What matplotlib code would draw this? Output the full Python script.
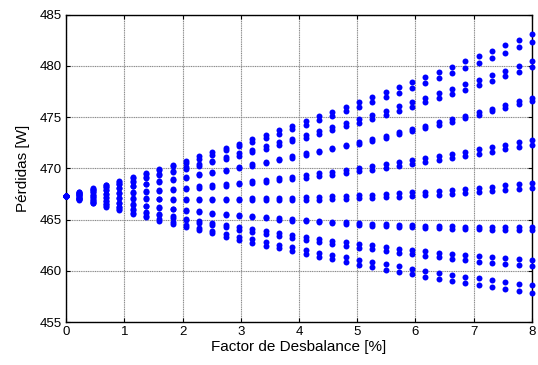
import matplotlib
matplotlib.use('Agg')
import matplotlib.pyplot as plt

# Factor de desbalance [%] (36 columnas de puntos)
factor = [0, 0.229, 0.457, 0.686, 0.914, 1.143, 1.371, 1.6, 1.829, 2.057, 2.286, 2.514,
          2.743, 2.971, 3.2, 3.429, 3.657, 3.886, 4.114, 4.343, 4.571, 4.8, 5.029, 5.257,
          5.486, 5.714, 5.943, 6.171, 6.4, 6.629, 6.857, 7.086, 7.314, 7.543, 7.771, 8.0]

# Perdidas [W], una lista por curva
p01 = [467.30, 467.66, 468.03, 468.41, 468.78, 469.17, 469.56, 469.95, 470.35, 470.75, 471.16, 471.58,
       472.00, 472.42, 472.85, 473.29, 473.73, 474.17, 474.62, 475.08, 475.54, 476.01, 476.48, 476.95,
       477.43, 477.92, 478.41, 478.91, 479.41, 479.92, 480.43, 480.95, 481.47, 481.99, 482.53, 483.06]
p02 = [467.30, 467.64, 467.99, 468.34, 468.70, 469.06, 469.43, 469.80, 470.18, 470.56, 470.95, 471.34,
       471.74, 472.14, 472.55, 472.96, 473.38, 473.80, 474.23, 474.67, 475.10, 475.55, 476.00, 476.45,
       476.91, 477.38, 477.85, 478.32, 478.80, 479.28, 479.77, 480.27, 480.77, 481.28, 481.79, 482.30]
p03 = [467.30, 467.59, 467.88, 468.18, 468.48, 468.79, 469.11, 469.43, 469.75, 470.08, 470.41, 470.75,
       471.10, 471.45, 471.80, 472.16, 472.53, 472.90, 473.27, 473.65, 474.04, 474.43, 474.82, 475.23,
       475.63, 476.04, 476.46, 476.88, 477.31, 477.74, 478.18, 478.62, 479.06, 479.52, 479.97, 480.44]
p04 = [467.30, 467.57, 467.85, 468.13, 468.42, 468.71, 469.01, 469.31, 469.62, 469.93, 470.25, 470.57,
       470.90, 471.23, 471.57, 471.91, 472.26, 472.62, 472.97, 473.34, 473.71, 474.08, 474.46, 474.84,
       475.23, 475.63, 476.03, 476.43, 476.84, 477.26, 477.68, 478.10, 478.53, 478.97, 479.41, 479.86]
p05 = [467.30, 467.49, 467.68, 467.88, 468.08, 468.29, 468.50, 468.72, 468.94, 469.17, 469.40, 469.64,
       469.88, 470.13, 470.39, 470.64, 470.91, 471.18, 471.45, 471.73, 472.01, 472.30, 472.60, 472.90,
       473.20, 473.51, 473.83, 474.15, 474.47, 474.80, 475.14, 475.48, 475.83, 476.18, 476.53, 476.89]
p06 = [467.30, 467.48, 467.66, 467.85, 468.05, 468.24, 468.45, 468.66, 468.87, 469.09, 469.32, 469.55,
       469.78, 470.02, 470.27, 470.52, 470.77, 471.03, 471.30, 471.57, 471.84, 472.13, 472.41, 472.70,
       473.00, 473.30, 473.61, 473.92, 474.24, 474.56, 474.88, 475.22, 475.55, 475.90, 476.24, 476.60]
p07 = [467.30, 467.37, 467.44, 467.53, 467.61, 467.70, 467.80, 467.90, 468.00, 468.11, 468.23, 468.35,
       468.48, 468.61, 468.74, 468.88, 469.03, 469.18, 469.34, 469.50, 469.67, 469.84, 470.02, 470.20,
       470.39, 470.58, 470.78, 470.98, 471.19, 471.40, 471.62, 471.84, 472.07, 472.31, 472.54, 472.79]
p08 = [467.30, 467.36, 467.42, 467.48, 467.55, 467.63, 467.71, 467.80, 467.89, 467.99, 468.09, 468.20,
       468.31, 468.43, 468.55, 468.68, 468.81, 468.95, 469.09, 469.24, 469.39, 469.55, 469.71, 469.88,
       470.05, 470.23, 470.42, 470.60, 470.80, 471.00, 471.20, 471.41, 471.63, 471.85, 472.07, 472.30]
p09 = [467.30, 467.25, 467.20, 467.16, 467.13, 467.10, 467.07, 467.05, 467.04, 467.03, 467.02, 467.02,
       467.03, 467.04, 467.06, 467.08, 467.10, 467.14, 467.17, 467.21, 467.26, 467.31, 467.37, 467.43,
       467.50, 467.57, 467.65, 467.73, 467.82, 467.91, 468.01, 468.11, 468.22, 468.33, 468.45, 468.57]
p10 = [467.30, 467.24, 467.18, 467.12, 467.07, 467.03, 466.99, 466.96, 466.93, 466.90, 466.88, 466.87,
       466.86, 466.86, 466.86, 466.87, 466.88, 466.90, 466.92, 466.95, 466.98, 467.02, 467.06, 467.11,
       467.16, 467.22, 467.28, 467.35, 467.43, 467.50, 467.59, 467.68, 467.77, 467.87, 467.97, 468.08]
p11 = [467.30, 467.13, 466.96, 466.80, 466.64, 466.48, 466.34, 466.19, 466.06, 465.92, 465.80, 465.67,
       465.56, 465.45, 465.34, 465.24, 465.14, 465.05, 464.96, 464.88, 464.80, 464.73, 464.67, 464.61,
       464.55, 464.50, 464.46, 464.41, 464.38, 464.35, 464.32, 464.30, 464.29, 464.28, 464.28, 464.28]
p12 = [467.30, 467.12, 466.94, 466.77, 466.60, 466.44, 466.29, 466.13, 465.99, 465.85, 465.71, 465.58,
       465.46, 465.33, 465.22, 465.11, 465.00, 464.90, 464.81, 464.72, 464.63, 464.55, 464.48, 464.41,
       464.35, 464.29, 464.23, 464.18, 464.14, 464.10, 464.07, 464.04, 464.02, 464.00, 463.99, 463.98]
p13 = [467.30, 467.03, 466.77, 466.52, 466.27, 466.02, 465.78, 465.54, 465.31, 465.09, 464.87, 464.65,
       464.44, 464.24, 464.04, 463.84, 463.65, 463.47, 463.29, 463.11, 462.94, 462.78, 462.62, 462.47,
       462.32, 462.17, 462.03, 461.90, 461.77, 461.65, 461.53, 461.42, 461.31, 461.21, 461.11, 461.02]
p14 = [467.30, 467.02, 466.74, 466.47, 466.20, 465.94, 465.68, 465.43, 465.18, 464.94, 464.70, 464.47,
       464.24, 464.02, 463.80, 463.59, 463.38, 463.18, 462.99, 462.80, 462.61, 462.43, 462.25, 462.08,
       461.92, 461.76, 461.60, 461.45, 461.31, 461.17, 461.03, 460.90, 460.78, 460.66, 460.55, 460.44]
p15 = [467.30, 466.96, 466.63, 466.31, 465.99, 465.67, 465.36, 465.05, 464.75, 464.46, 464.17, 463.88,
       463.60, 463.33, 463.06, 462.79, 462.53, 462.28, 462.03, 461.78, 461.54, 461.31, 461.08, 460.86,
       460.64, 460.43, 460.22, 460.01, 459.82, 459.62, 459.43, 459.25, 459.07, 458.90, 458.73, 458.57]
p16 = [467.30, 466.94, 466.59, 466.24, 465.90, 465.56, 465.23, 464.90, 464.58, 464.26, 463.95, 463.64,
       463.34, 463.04, 462.75, 462.46, 462.18, 461.91, 461.64, 461.37, 461.11, 460.85, 460.60, 460.36,
       460.12, 459.88, 459.65, 459.42, 459.21, 458.99, 458.78, 458.58, 458.38, 458.18, 457.99, 457.81]

curvas = [p01, p02, p03, p04, p05, p06, p07, p08, p09, p10, p11, p12, p13, p14, p15, p16]

xticks = [0, 1, 2, 3, 4, 5, 6, 7, 8]
yticks = [455, 460, 465, 470, 475, 480, 485]

plt.rcParams['font.family'] = ['Liberation Sans', 'DejaVu Sans']

fig = plt.figure(figsize=(5.38, 3.65), dpi=100)
ax = fig.add_axes([0.1227, 0.1178, 0.8661, 0.8422])

for c in curvas:
    ax.plot(factor, c, linestyle='none', marker='o', markersize=4.3,
            markeredgewidth=0, color='#0000ff', clip_on=False, zorder=3)

ax.set_xlim(0, 8)
ax.set_ylim(455, 485)
ax.set_xticks(xticks)
ax.set_yticks(yticks)
# rejilla punteada gris como en MATLAB
ax.grid(True, color='#8a8a8a', linestyle=(0, (1, 0.6)), linewidth=0.8)
ax.set_axisbelow(True)
ax.tick_params(direction='in', top=True, right=True, length=3, width=0.8,
               labelsize=9.5, pad=3)
for s in ax.spines.values():
    s.set_linewidth(1.0)

ax.set_xlabel('Factor de Desbalance [%]', fontsize=11, labelpad=1)
ax.set_ylabel('Pérdidas [W]', fontsize=11, labelpad=7)

fig.savefig('out.png', dpi=100)
